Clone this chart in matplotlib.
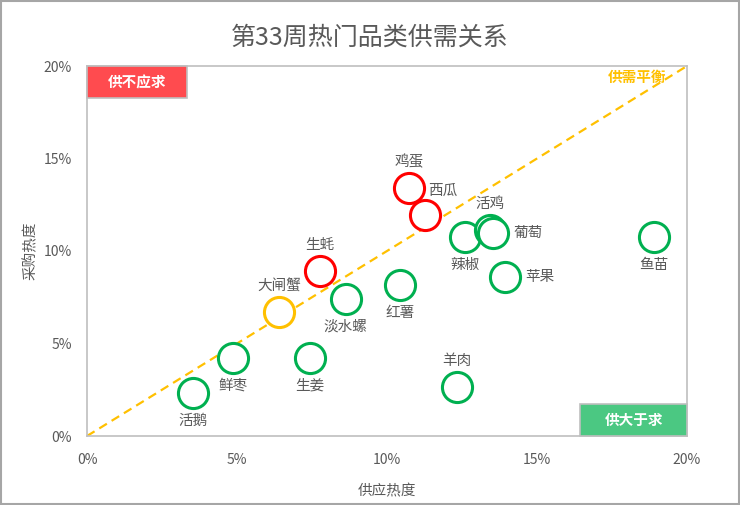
import matplotlib
matplotlib.use("Agg")
import matplotlib.pyplot as plt
from matplotlib.ticker import FuncFormatter

plt.rcParams['font.family'] = ['Noto Sans CJK SC', 'DejaVu Sans']

# data (percent)
names = ['活鹅', '鲜枣', '生姜', '大闸蟹', '淡水螺', '生蚝', '红薯', '羊肉',
         '鸡蛋', '西瓜', '辣椒', '活鸡', '葡萄', '苹果', '鱼苗']
supply = [3.53, 4.87, 7.43, 6.4, 8.63, 7.77, 10.43, 12.33,
          10.73, 11.27, 12.6, 13.43, 13.53, 13.93, 18.9]
demand = [2.32, 4.22, 4.22, 6.7, 7.4, 8.92, 8.16, 2.65,
          13.4, 11.95, 10.76, 11.14, 10.97, 8.59, 10.76]
status = ['ok', 'ok', 'ok', 'bal', 'ok', 'short', 'ok', 'ok',
          'short', 'short', 'ok', 'ok', 'ok', 'ok', 'ok']
label_pos = ['below', 'below', 'below', 'above', 'below', 'above', 'below', 'above',
             'above', 'upright', 'below', 'above', 'right', 'right', 'below']

colors = {'ok': '#00B050', 'short': '#FF0000', 'bal': '#FFC000'}
offsets = {'above': (0, 13.5, 'center', 'bottom'),
           'below': (0, -15, 'center', 'top'),
           'right': (15, 0, 'left', 'center'),
           'upright': (2, 17.5, 'left', 'center')}

fig = plt.figure(figsize=(7.40, 5.05), dpi=100)
ax = fig.add_axes([87/740, 69/505, 600/740, 370/505])

# balance line
ax.plot([0, 20], [0, 20], ls='--', color='#FFC000', lw=1.6, dashes=(4, 2.5), zorder=1)

for n, x, y, s, p in zip(names, supply, demand, status, label_pos):
    ax.scatter(x, y, s=470, facecolors='white', edgecolors=colors[s], linewidths=2.2, zorder=3)
    dx, dy, ha, va = offsets[p]
    ax.annotate(n, (x, y), xytext=(dx, dy), textcoords='offset points',
                ha=ha, va=va, fontsize=10.5, color='#595959', zorder=4)

ax.set_xlim(0, 20)
ax.set_ylim(0, 20)
ax.set_xticks([0, 5, 10, 15, 20])
ax.set_yticks([0, 5, 10, 15, 20])
pct = FuncFormatter(lambda v, _: f'{v:.0f}%')
ax.xaxis.set_major_formatter(pct)
ax.yaxis.set_major_formatter(pct)
ax.tick_params(length=0, labelsize=10, colors='#595959')
ax.tick_params(axis='y', pad=11)
ax.tick_params(axis='x', pad=12)
for sp in ax.spines.values():
    sp.set_color('#BFBFBF')
    sp.set_linewidth(1.2)

ax.set_xlabel('供应热度', fontsize=10.5, color='#595959', labelpad=13)
ax.set_ylabel('采购热度', fontsize=10.5, color='#595959', labelpad=4)

fig.text(0.5, 1 - 38/505, '第33周热门品类供需关系', ha='center', va='center',
         fontsize=18, color='#595959')

# quadrant tags
ax.add_patch(plt.Rectangle((0, 1 - 32/370), 100/600, 32/370, transform=ax.transAxes,
                           fc='#FF4B4F', ec='#BFBFBF', lw=1.2, zorder=5, clip_on=False))
ax.text(50/600, 1 - 16/370, '供不应求', transform=ax.transAxes, ha='center', va='center',
        fontsize=10.5, fontweight='bold', color='white', zorder=6)
ax.add_patch(plt.Rectangle((1 - 107/600, 0), 107/600, 32/370, transform=ax.transAxes,
                           fc='#4BC882', ec='#BFBFBF', lw=1.2, zorder=5, clip_on=False))
ax.text(1 - 53/600, 16/370, '供大于求', transform=ax.transAxes, ha='center', va='center',
        fontsize=10.5, fontweight='bold', color='white', zorder=6)
ax.text(19.3, 19.85, '供需平衡', ha='right', va='top', fontsize=10.5, fontweight='bold', color='#FFC000')

# outer frame
fig.patches.append(plt.Rectangle((0.002, 0.002), 0.996, 0.996, transform=fig.transFigure,
                                 fill=False, ec='#A6A6A6', lw=1.5))

fig.savefig('out.png', dpi=100)
